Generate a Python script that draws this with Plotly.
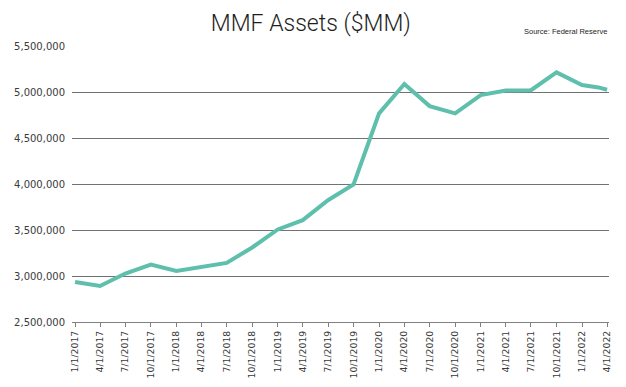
import plotly.graph_objects as go

# ---- data ----
dates = ["2017-01-01", "2017-04-01", "2017-07-01", "2017-10-01",
         "2018-01-01", "2018-04-01", "2018-07-01", "2018-10-01",
         "2019-01-01", "2019-04-01", "2019-07-01", "2019-10-01",
         "2020-01-01", "2020-04-01", "2020-07-01", "2020-10-01",
         "2021-01-01", "2021-04-01", "2021-07-01", "2021-10-01",
         "2022-01-01", "2022-03-01", "2022-04-01"]
assets = [2935000, 2892000, 3027000, 3125000,
          3055000, 3099000, 3142000, 3310000,
          3506000, 3607000, 3824000, 3995000,
          4768000, 5087000, 4847000, 4768000,
          4967000, 5016000, 5020000, 5213000,
          5076000, 5050000, 5025000]
tick_dates = ["2017-01-01", "2017-04-01", "2017-07-01", "2017-10-01",
              "2018-01-01", "2018-04-01", "2018-07-01", "2018-10-01",
              "2019-01-01", "2019-04-01", "2019-07-01", "2019-10-01",
              "2020-01-01", "2020-04-01", "2020-07-01", "2020-10-01",
              "2021-01-01", "2021-04-01", "2021-07-01", "2021-10-01",
              "2022-01-01", "2022-04-01"]
tick_labels = ["1/1/2017", "4/1/2017", "7/1/2017", "10/1/2017",
               "1/1/2018", "4/1/2018", "7/1/2018", "10/1/2018",
               "1/1/2019", "4/1/2019", "7/1/2019", "10/1/2019",
               "1/1/2020", "4/1/2020", "7/1/2020", "10/1/2020",
               "1/1/2021", "4/1/2021", "7/1/2021", "10/1/2021",
               "1/1/2022", "4/1/2022"]
y_ticks = [2500000, 3000000, 3500000, 4000000, 4500000, 5000000, 5500000]
y_tick_labels = ["2,500,000", "3,000,000", "3,500,000", "4,000,000",
                 "4,500,000", "5,000,000", "5,500,000"]

# the page body adds an 8px offset, so the figure is 8px smaller
W, H = 618, 379

fig = go.Figure()
fig.add_trace(go.Scatter(
    x=dates, y=assets, mode="lines",
    line=dict(color="#5ebfad", width=4),
    hoverinfo="skip", showlegend=False,
))

fig.update_layout(
    width=W, height=H,
    margin=dict(l=64, r=17, t=38, b=65, autoexpand=False),
    paper_bgcolor="white", plot_bgcolor="white",
    title=dict(text="MMF Assets ($MM)", x=0.49, xanchor="center",
               y=1 - 15 / H, yanchor="middle", xref="container",
               font=dict(family="Roboto, sans-serif", weight=300,
                         size=23, color="#1e1e1e")),
    xaxis=dict(
        type="date",
        range=["2016-12-21", "2022-04-08"],
        tickmode="array", tickvals=tick_dates, ticktext=tick_labels,
        tickangle=-90,
        tickfont=dict(family="DejaVu Sans, sans-serif", size=9.3, color="#3a3a3a"),
        showgrid=False, zeroline=False,
        showline=True, linecolor="#808080", linewidth=1,
        ticks="outside", ticklen=4, tickcolor="#808080", tickwidth=1,
    ),
    yaxis=dict(
        range=[2500000, 5500000],
        tickmode="array", tickvals=y_ticks, ticktext=y_tick_labels,
        tickfont=dict(family="DejaVu Sans, sans-serif", size=10, color="#3a3a3a"),
        showgrid=True, gridcolor="#727272", gridwidth=1.2,
        zeroline=False, showline=False, ticks="",
        ticklabelstandoff=6,
    ),
    annotations=[dict(
        text="Source: Federal Reserve", xref="paper", yref="paper",
        x=1.0, y=1.052, xanchor="right", yanchor="middle", showarrow=False,
        font=dict(family="Liberation Sans, Arial, sans-serif", size=7.5, color="#1e1e1e"),
    )],
)

fig.write_html("out.html")
